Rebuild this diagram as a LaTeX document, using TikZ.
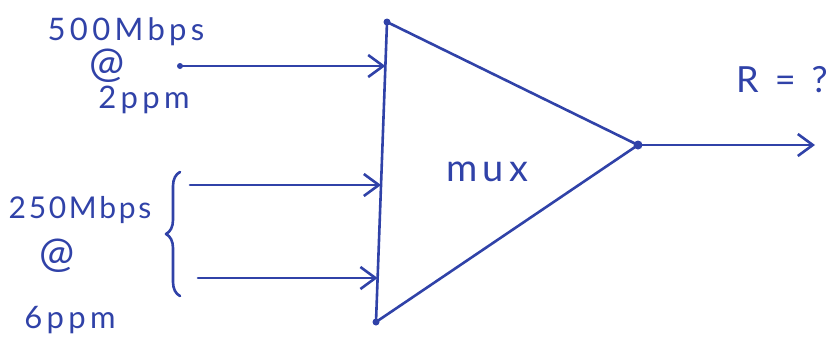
\documentclass[tikz,border=0pt]{standalone}
\usepackage{fontspec}
\newfontfamily\hand[LetterSpace=14]{Lato}
\newfontfamily\handtight[LetterSpace=9]{Lato}
\usetikzlibrary{arrows.meta,decorations.pathreplacing,calc}
\definecolor{ink}{RGB}{48,66,168}
\begin{document}
\begin{tikzpicture}[x=1pt,y=-1pt,
  ink/.style={draw=ink,line width=2.6pt,line cap=round,line join=round},
  arr/.style={ink,-{Straight Barb[length=15pt,width=22pt,line width=2.6pt]}},
  lbl/.style={text=ink,font=\hand\fontsize{31}{34}\selectfont,inner sep=0pt},
  dot/.style={circle,fill=ink,inner sep=0pt,minimum size=7pt}]
\useasboundingbox (0,0) rectangle (840,354);
% mux triangle
\coordinate (T) at (387,22);
\coordinate (B) at (376,322);
\coordinate (A) at (638,145);
\draw[ink] (T) -- (A) -- (B) -- cycle;
\node[dot] (dT) at (T) {};
\node[dot] (dB) at (B) {};
\node[dot,minimum size=9pt] (dA) at (A) {};
\node[lbl,font=\hand\fontsize{38}{40}\selectfont] (mux) at (487,172) {mux};
% input ends on the left side
\coordinate (e1) at ($(T)!0.147!(B)$);
\coordinate (e2) at ($(T)!0.543!(B)$);
\coordinate (e3) at ($(T)!0.853!(B)$);
\coordinate (s1) at (180,66);
\coordinate (s2) at (190,185);
\coordinate (s3) at (198,278);
\node[dot,minimum size=6pt] (ds1) at (s1) {};
\draw[arr] (s1) -- (e1 |- s1);
\draw[arr] (s2) -- (e2 |- s2);
\draw[arr] (s3) -- (e3 |- s3);
% output
\coordinate (o) at (815,145);
\draw[arr] (A) -- (o);
\node[lbl,font=\hand\fontsize{36}{38}\selectfont] (R) at (782,80) {R\hspace{16pt}=\hspace{16pt}?};
% labels
\node[lbl] (l1) at (126,32) {500Mbps};
\node[lbl,font=\hand\fontsize{42}{44}\selectfont] (at1) at (107,66) {@};
\node[lbl] (l2) at (144,100) {2ppm};
\node[lbl,font=\handtight\fontsize{30}{32}\selectfont] (l3) at (80,210) {250Mbps};
\node[lbl,font=\hand\fontsize{42}{44}\selectfont] (at2) at (57,256) {@};
\node[lbl] (l4) at (70,320) {6ppm};
% brace
\draw[ink,decorate,decoration={brace,amplitude=14pt}] (180,296) -- (180,172);
\end{tikzpicture}
\end{document}
